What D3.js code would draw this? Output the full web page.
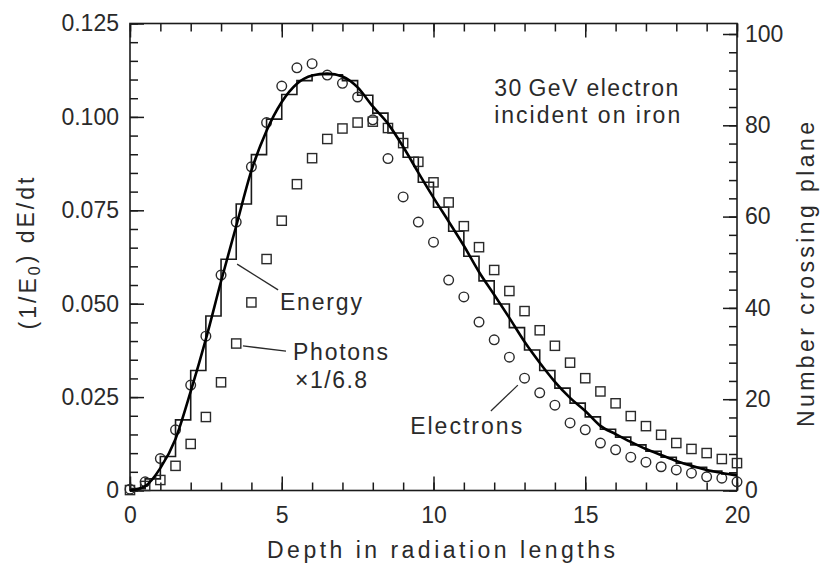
<!DOCTYPE html>
<html>
<head>
<meta charset="utf-8">
<script src="https://cdn.jsdelivr.net/npm/d3@7"></script>
<style>
  html, body { margin: 0; padding: 0; background: #fff; }
  svg text { font-family: "Liberation Sans", Arial, sans-serif; fill: #2a2a2a; }
</style>
</head>
<body>
<svg id="chart" width="828" height="564"></svg>
<script>
// depth in radiation lengths, one sample every half X0
const depth = [0, 0.5, 1, 1.5, 2, 2.5, 3, 3.5, 4, 4.5, 5, 5.5, 6, 6.5, 7, 7.5, 8, 8.5, 9, 9.5,
  10, 10.5, 11, 11.5, 12, 12.5, 13, 13.5, 14, 14.5, 15, 15.5, 16, 16.5, 17, 17.5, 18, 18.5, 19, 19.5, 20];

// (1/E0) dE/dt, smooth fit
const energyFit = [0, 0.0012, 0.0060, 0.0138, 0.0265, 0.0405, 0.0560, 0.0708, 0.0856, 0.0963,
  0.1040, 0.1089, 0.1111, 0.1116, 0.1108, 0.1079, 0.1028, 0.0982, 0.0920, 0.0851,
  0.0784, 0.0720, 0.0655, 0.0585, 0.0524, 0.0462, 0.0398, 0.0342, 0.0291, 0.0248,
  0.0213, 0.0173, 0.0151, 0.0130, 0.0111, 0.0095, 0.0079, 0.0066, 0.0055, 0.0047, 0.0040];

// (1/E0) dE/dt, histogram (one bin per half X0, starting at depth[i])
const energyHist = [0.0005, 0.0031, 0.0091, 0.0189, 0.0321, 0.0467, 0.0619, 0.0767, 0.0899, 0.0994,
  0.1060, 0.1097, 0.1113, 0.1113, 0.1097, 0.1058, 0.1010, 0.0957, 0.0892, 0.0825,
  0.0758, 0.0694, 0.0627, 0.0561, 0.0499, 0.0436, 0.0376, 0.0321, 0.0274, 0.0234,
  0.0197, 0.0164, 0.0143, 0.0122, 0.0105, 0.0089, 0.0073, 0.0062, 0.0052, 0.0044];

// number crossing plane
const electrons = [0.3, 1.9, 7.0, 13.3, 23.1, 33.8, 47.2, 58.8, 70.9, 80.6,
  88.6, 92.6, 93.5, 91.0, 89.2, 86.2, 81.2, 72.7, 64.3, 58.8,
  54.4, 46.1, 42.4, 36.9, 33.0, 29.2, 24.6, 21.4, 18.7, 14.8,
  13.3, 10.4, 8.9, 7.3, 6.2, 5.2, 4.5, 3.8, 3.0, 2.7, 1.9];

// photons x 1/6.8
const photons = [0.1, 1.0, 2.3, 5.4, 10.2, 16.1, 23.7, 32.2, 41.2, 50.7,
  59.1, 67.1, 72.8, 77.0, 79.3, 80.6, 80.8, 79.4, 76.1, 72.0,
  67.5, 63.1, 57.9, 53.3, 48.3, 43.7, 39.3, 35.1, 31.7, 28.0,
  24.6, 21.7, 19.1, 16.3, 14.1, 12.2, 10.4, 9.1, 8.2, 6.9, 6.0];

const xTicks = [0, 5, 10, 15, 20];
const energyTicks = [0, 0.025, 0.05, 0.075, 0.1, 0.125];
const numberTicks = [0, 20, 40, 60, 80, 100];

const svg = d3.select('#chart');
const plot = { left: 130, right: 737, top: 23.5, bottom: 490.5 };
const ink = '#1a1a1a';

const x = d3.scaleLinear().domain([0, 20]).range([plot.left, plot.right]);
const yE = d3.scaleLinear().domain([0, 0.125]).range([plot.bottom, plot.top]);
const yN = d3.scaleLinear().domain([0, 100]).range([plot.bottom, 34]);

function addAxis(axis, tx, ty) {
  const g = svg.append('g')
    .attr('transform', `translate(${tx},${ty})`)
    .call(axis)
    .attr('font-size', null)
    .attr('font-family', null);
  g.select('.domain').remove();
  g.selectAll('line').attr('stroke', ink).attr('stroke-width', 1.5);
  g.selectAll('text').style('font-size', '23px');
  return g;
}

// minor ticks
addAxis(d3.axisBottom(x).tickValues(d3.range(0, 21)).tickSizeInner(-8).tickSizeOuter(0).tickFormat(''), 0, plot.bottom);
addAxis(d3.axisTop(x).tickValues(d3.range(0, 21)).tickSizeInner(-8).tickSizeOuter(0).tickFormat(''), 0, plot.top);
addAxis(d3.axisLeft(yE).tickValues(d3.range(0, 0.1251, 0.005)).tickSizeInner(-8).tickSizeOuter(0).tickFormat(''), plot.left, 0);
addAxis(d3.axisRight(yN).tickValues(d3.range(0, 101, 4)).tickSizeInner(-8).tickSizeOuter(0).tickFormat(''), plot.right, 0);

// major ticks + labels
addAxis(d3.axisBottom(x).tickValues(xTicks).tickSizeInner(-14).tickSizeOuter(0).tickPadding(16), 0, plot.bottom);
addAxis(d3.axisTop(x).tickValues(xTicks).tickSizeInner(-14).tickSizeOuter(0).tickFormat(''), 0, plot.top);
addAxis(d3.axisLeft(yE).tickValues(energyTicks).tickSizeInner(-14).tickSizeOuter(0).tickPadding(11)
  .tickFormat((d) => (d === 0 ? '0' : d3.format('.3f')(d))), plot.left, 0);
addAxis(d3.axisRight(yN).tickValues(numberTicks).tickSizeInner(-14).tickSizeOuter(0).tickPadding(8), plot.right, 0);

// frame
svg.append('rect')
  .attr('x', plot.left)
  .attr('y', plot.top)
  .attr('width', plot.right - plot.left)
  .attr('height', plot.bottom - plot.top)
  .attr('fill', 'none')
  .attr('stroke', ink)
  .attr('stroke-width', 1.6);

// energy histogram
const histPts = energyHist.map((v, i) => [depth[i], v]);
histPts.push([20, energyHist[energyHist.length - 1]]);
svg.append('path')
  .datum(histPts)
  .attr('fill', 'none')
  .attr('stroke', ink)
  .attr('stroke-width', 1.6)
  .attr('d', d3.line().x((d) => x(d[0])).y((d) => yE(d[1])).curve(d3.curveStepAfter));

// electrons
svg.selectAll('circle.electron')
  .data(electrons)
  .join('circle')
  .attr('class', 'electron')
  .attr('cx', (d, i) => x(depth[i]))
  .attr('cy', (d) => yN(d))
  .attr('r', 4.8)
  .attr('fill', 'none')
  .attr('stroke', '#2a2a2a')
  .attr('stroke-width', 1.4);

// photons
const sq = 9.2;
svg.selectAll('rect.photon')
  .data(photons)
  .join('rect')
  .attr('class', 'photon')
  .attr('x', (d, i) => x(depth[i]) - sq / 2)
  .attr('y', (d) => yN(d) - sq / 2)
  .attr('width', sq)
  .attr('height', sq)
  .attr('fill', 'none')
  .attr('stroke', '#2a2a2a')
  .attr('stroke-width', 1.4);

// energy fit
svg.append('path')
  .datum(energyFit)
  .attr('fill', 'none')
  .attr('stroke', '#000')
  .attr('stroke-width', 2.6)
  .attr('d', d3.line().x((d, i) => x(depth[i])).y((d) => yE(d)).curve(d3.curveMonotoneX));

// annotations (placed in data units)
const notes = [
  { text: '30\u2009GeV electron', t: 12, v: 0.1056, len: 184 },
  { text: 'incident on iron', t: 12, v: 0.0984, len: 186 },
  { text: 'Energy', t: 4.94, v: 0.0483, len: 82 },
  { text: 'Photons', t: 5.37, v: 0.0349, len: 95 },
  { text: '\u00d71/6.8', t: 5.44, v: 0.0274, len: 72 },
  { text: 'Electrons', t: 9.23, v: 0.0151, len: 112 },
];
svg.selectAll('text.note')
  .data(notes)
  .join('text')
  .attr('class', 'note')
  .attr('x', (d) => x(d.t))
  .attr('y', (d) => yE(d.v))
  .attr('textLength', (d) => d.len)
  .attr('lengthAdjust', 'spacing')
  .style('font-size', '23px')
  .text((d) => d.text);

const leaders = [
  [[3.53, 0.0606], [4.88, 0.0537]],
  [[3.72, 0.0387], [5.14, 0.0373]],
  [[11.89, 0.0213], [12.78, 0.0282]],
];
svg.selectAll('line.leader')
  .data(leaders)
  .join('line')
  .attr('class', 'leader')
  .attr('x1', (d) => x(d[0][0]))
  .attr('y1', (d) => yE(d[0][1]))
  .attr('x2', (d) => x(d[1][0]))
  .attr('y2', (d) => yE(d[1][1]))
  .attr('stroke', '#2a2a2a')
  .attr('stroke-width', 1.3);

// axis titles
svg.append('text')
  .attr('x', 441)
  .attr('y', 558)
  .attr('text-anchor', 'middle')
  .attr('textLength', 348)
  .attr('lengthAdjust', 'spacing')
  .style('font-size', '23px')
  .text('Depth in radiation lengths');

const yTitle = svg.append('text')
  .attr('transform', 'translate(36,252) rotate(-90)')
  .attr('text-anchor', 'middle')
  .style('font-size', '23px')
  .style('letter-spacing', '3px');
yTitle.append('tspan').text('(1/E');
yTitle.append('tspan').attr('dy', '0.25em').style('font-size', '16px').text('0');
yTitle.append('tspan').attr('dy', '-0.25em').text(') dE/dt');

svg.append('text')
  .attr('transform', 'translate(814,274.5) rotate(-90)')
  .attr('text-anchor', 'middle')
  .attr('textLength', 305)
  .attr('lengthAdjust', 'spacing')
  .style('font-size', '23px')
  .text('Number crossing plane');
</script>
</body>
</html>
